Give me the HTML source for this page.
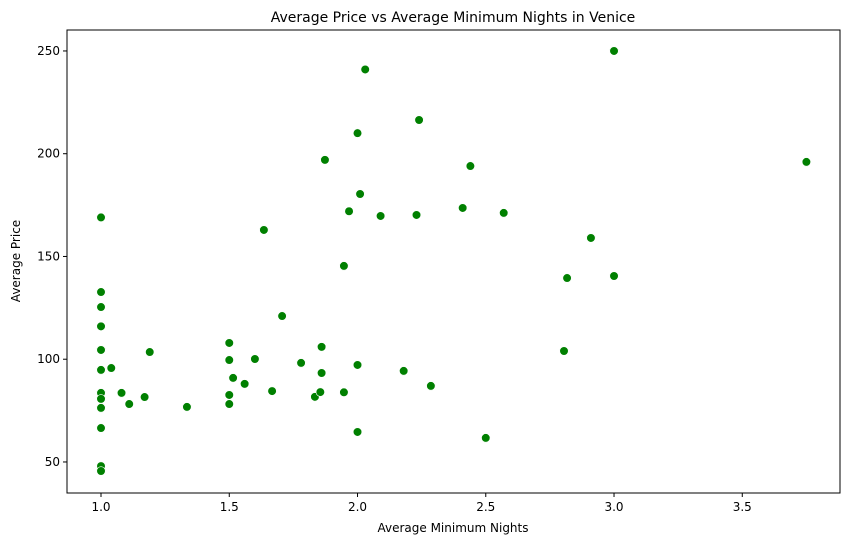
<!DOCTYPE html>
<html><head><meta charset="utf-8"><style>
body{margin:0;background:#fff;font-family:"Liberation Sans","DejaVu Sans",sans-serif;}
svg text{font-family:"DejaVu Sans","Liberation Sans",sans-serif;}
</style></head><body>
<svg id="chart" width="850" height="545">
<text x="453" y="22" font-size="14" text-anchor="middle">Average Price vs Average Minimum Nights in Venice</text>
<g id="marks"></g>
<g id="axes"></g>
<rect x="67" y="30" width="773" height="463" fill="none" stroke="#000" stroke-width="1"/>
<text x="453" y="532" font-size="12" text-anchor="middle">Average Minimum Nights</text>
<text x="20" y="261" font-size="12" text-anchor="middle" transform="rotate(-90 20 261)">Average Price</text>
</svg>
<script>
const xValues=[1.0,1.0,1.0,1.0,1.0,1.0,1.0,1.0,1.0,1.0,1.0,1.0,1.04,1.08,1.11,1.17,1.19,1.335,1.5,1.5,1.5,1.5,1.515,1.56,1.6,1.635,1.667,1.706,1.78,1.834,1.855,1.86,1.86,1.873,1.947,1.947,1.967,2.0,2.0,2.0,2.01,2.03,2.09,2.18,2.23,2.24,2.286,2.44,2.41,2.5,2.57,2.805,2.817,2.91,3.0,3.0,3.75];
const yValues=[169,132.7,125.4,116,104.5,94.8,83.6,80.7,76.3,66.5,48,45.6,95.7,83.6,78.2,81.6,103.5,76.8,107.9,99.6,82.6,78.2,90.9,88,100.1,162.9,84.5,121,98.2,81.7,84,106,93.3,197,145.4,83.9,172,210,97.2,64.6,180.4,241,169.7,94.3,170.2,216.4,87,194,173.6,61.7,171.2,104,139.5,159,250,140.5,196];
const xTicks=[1.0,1.5,2.0,2.5,3.0,3.5];
const xTickLabels=["1.0","1.5","2.0","2.5","3.0","3.5"];
const yTicks=[50,100,150,200,250];
const yTickLabels=["50","100","150","200","250"];
const L=67,R=840,T=30,B=493;
const xMin=0.8674,xMax=3.881,yMin=34.9,yMax=260.2;
const xs=v=>L+(v-xMin)/(xMax-xMin)*(R-L);
const ys=v=>B-(v-yMin)/(yMax-yMin)*(B-T);
const NS="http://www.w3.org/2000/svg";
const marks=document.getElementById('marks'),axes=document.getElementById('axes');
xValues.forEach((x,i)=>{
  const c=document.createElementNS(NS,'circle');
  c.setAttribute('cx',xs(x));c.setAttribute('cy',ys(yValues[i]));c.setAttribute('r',4.3);
  c.setAttribute('fill','#008000');c.setAttribute('stroke','#fff');c.setAttribute('stroke-width','0.6');
  
  
  marks.appendChild(c);
});
xTicks.forEach((t,i)=>{
  const x=xs(t);
  const l=document.createElementNS(NS,'line');
  l.setAttribute('x1',x);l.setAttribute('x2',x);l.setAttribute('y1',B);l.setAttribute('y2',B+4);l.setAttribute('stroke','#000');
  
  
  axes.appendChild(l);
  const tx=document.createElementNS(NS,'text');
  tx.setAttribute('x',x);tx.setAttribute('y',B+18);tx.setAttribute('font-size','12');tx.setAttribute('text-anchor','middle');
  tx.textContent=xTickLabels[i];
  
  
  axes.appendChild(tx);
});
yTicks.forEach((t,i)=>{
  const y=ys(t);
  const l=document.createElementNS(NS,'line');
  l.setAttribute('x1',L-4);l.setAttribute('x2',L);l.setAttribute('y1',y);l.setAttribute('y2',y);l.setAttribute('stroke','#000');
  
  
  axes.appendChild(l);
  const tx=document.createElementNS(NS,'text');
  tx.setAttribute('x',L-7);tx.setAttribute('y',y+4);tx.setAttribute('font-size','12');tx.setAttribute('text-anchor','end');
  tx.textContent=yTickLabels[i];
  
  
  axes.appendChild(tx);
});
</script>
</body></html>
